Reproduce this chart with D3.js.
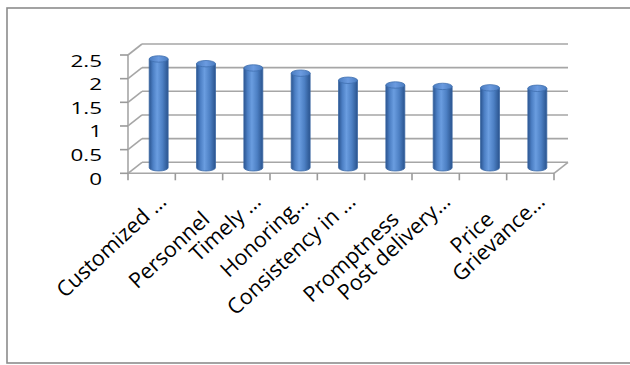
<!DOCTYPE html>
<html><head><meta charset="utf-8">
<script src="https://cdn.jsdelivr.net/npm/d3@7"></script>
<style>body{margin:0;background:#fff}svg{display:block}</style>
</head><body>
<script>
const categories = ["Customized …","Personnel","Timely …","Honoring…","Consistency in …","Promptness","Post delivery…","Price","Grievance…"];
const values = [2.3, 2.2, 2.11, 2.0, 1.85, 1.75, 1.72, 1.69, 1.68];
const yTicks = [0, 0.5, 1, 1.5, 2, 2.5];
const yTickLabels = ["0","0.5","1","1.5","2","2.5"];

const W = 630, H = 365;
const svg = d3.select("body").append("svg").attr("width", W).attr("height", H);

// frame
svg.append("rect").attr("x",7).attr("y",8).attr("width",640).attr("height",355)
  .attr("fill","#fff").attr("stroke","#8c8c8c").attr("stroke-width",1.6);

const depth = {dx: 14, dy: -11};
const x = d3.scaleBand().domain(categories).range([128, 554]).paddingInner(0.6).paddingOuter(0.3);
const step = x.step();
const yF = d3.scaleLinear().domain([0, 2.5]).range([173.3, 55]);
const grid = "#a6a6a6";

const defs = svg.append("defs");
const g1 = defs.append("linearGradient").attr("id","cyl").attr("x1","0").attr("x2","1").attr("y1","0").attr("y2","0");
[[0,"#2b5590"],[0.2,"#4c7fc4"],[0.42,"#6a9de0"],[0.7,"#4d80c4"],[1,"#2a548e"]].forEach(s=>g1.append("stop").attr("offset",s[0]).attr("stop-color",s[1]));
const g2 = defs.append("linearGradient").attr("id","cap").attr("x1","0").attr("x2","1").attr("y1","0").attr("y2","0");
[[0,"#4a7cc0"],[0.5,"#6b9be0"],[1,"#4a7cc0"]].forEach(s=>g2.append("stop").attr("offset",s[0]).attr("stop-color",s[1]));

const x0 = 128, x1 = 554;
// back wall gridlines
svg.append("g").selectAll("line").data(yTicks).join("line")
  .attr("x1", x0 + depth.dx).attr("x2", x1 + depth.dx)
  .attr("y1", d => yF(d) + depth.dy).attr("y2", d => yF(d) + depth.dy)
  .attr("stroke", grid).attr("stroke-width", 1.6);
// side wall diagonals
svg.append("g").selectAll("line").data(yTicks).join("line")
  .attr("x1", x0).attr("x2", x0 + depth.dx)
  .attr("y1", d => yF(d)).attr("y2", d => yF(d) + depth.dy)
  .attr("stroke", grid).attr("stroke-width", 1.6);
// floor right edge & front edge
svg.append("line").attr("x1", x1).attr("y1", yF(0)).attr("x2", x1 + depth.dx).attr("y2", yF(0) + depth.dy)
  .attr("stroke", grid).attr("stroke-width", 1.6);
svg.append("line").attr("x1", x0).attr("y1", yF(0)).attr("x2", x1).attr("y2", yF(0))
  .attr("stroke", grid).attr("stroke-width", 1.6);
// y axis line
svg.append("line").attr("x1", x0).attr("y1", yF(2.5)).attr("x2", x0).attr("y2", yF(0))
  .attr("stroke", grid).attr("stroke-width", 1.6);
// y ticks
svg.append("g").selectAll("line").data(yTicks).join("line")
  .attr("x1", x0 - 8).attr("x2", x0).attr("y1", d => yF(d)).attr("y2", d => yF(d))
  .attr("stroke", "#9a9a9a").attr("stroke-width", 1.6);
// x ticks
const tickPos = d3.range(categories.length + 1).map(i => x0 + i * step);
svg.append("g").selectAll("line").data(tickPos).join("line")
  .attr("x1", d => d).attr("x2", d => d).attr("y1", yF(0)).attr("y2", yF(0) + 7)
  .attr("stroke", "#9a9a9a").attr("stroke-width", 1.6);

// bars (cylinders) at mid depth
const rx = x.bandwidth() / 2, ry = 3.2;
const bars = svg.append("g").selectAll("g").data(categories.map((c,i)=>({c, v: values[i]}))).join("g");
bars.each(function(d){
  const gEl = d3.select(this);
  const cx = x(d.c) + x.bandwidth()/2 + depth.dx/2;
  const yb = yF(0) + depth.dy/2;
  const yt = yF(d.v) + depth.dy/2;
  gEl.append("path")
    .attr("d", `M${cx-rx},${yt} L${cx-rx},${yb} A${rx} ${ry} 0 0 0 ${cx+rx},${yb} L${cx+rx},${yt} Z`)
    .attr("fill","url(#cyl)").attr("stroke","#3a67a3").attr("stroke-width",0.8);
  gEl.append("ellipse").attr("cx", cx).attr("cy", yt).attr("rx", rx).attr("ry", ry)
    .attr("fill","url(#cap)").attr("stroke","#3f6fae").attr("stroke-width",0.8);
});

// y labels
svg.append("g").selectAll("text").data(yTicks).join("text")
  .attr("transform", d => `translate(102,${yF(d) + 11.5}) scale(1.4,1)`)
  .attr("text-anchor","end")
  .attr("font-family","'Open Sans', sans-serif").attr("font-size", 16).attr("fill","#000")
  .text((d,i) => yTickLabels[i]);

// x labels rotated
svg.append("g").selectAll("text").data(categories).join("text")
  .attr("transform", (d) => {
    const cx = x(d) + x.bandwidth()/2;
    const trunc = d.endsWith("…");
    const ax = cx + (trunc ? 16 : 12), ay = trunc ? 203 : 221;
    return `translate(${ax},${ay}) rotate(-43)`;
  })
  .attr("text-anchor","end")
  .attr("font-family","'Open Sans', sans-serif").attr("font-size", 21.5).attr("fill","#000")
  .text(d => d);
</script>
</body></html>
